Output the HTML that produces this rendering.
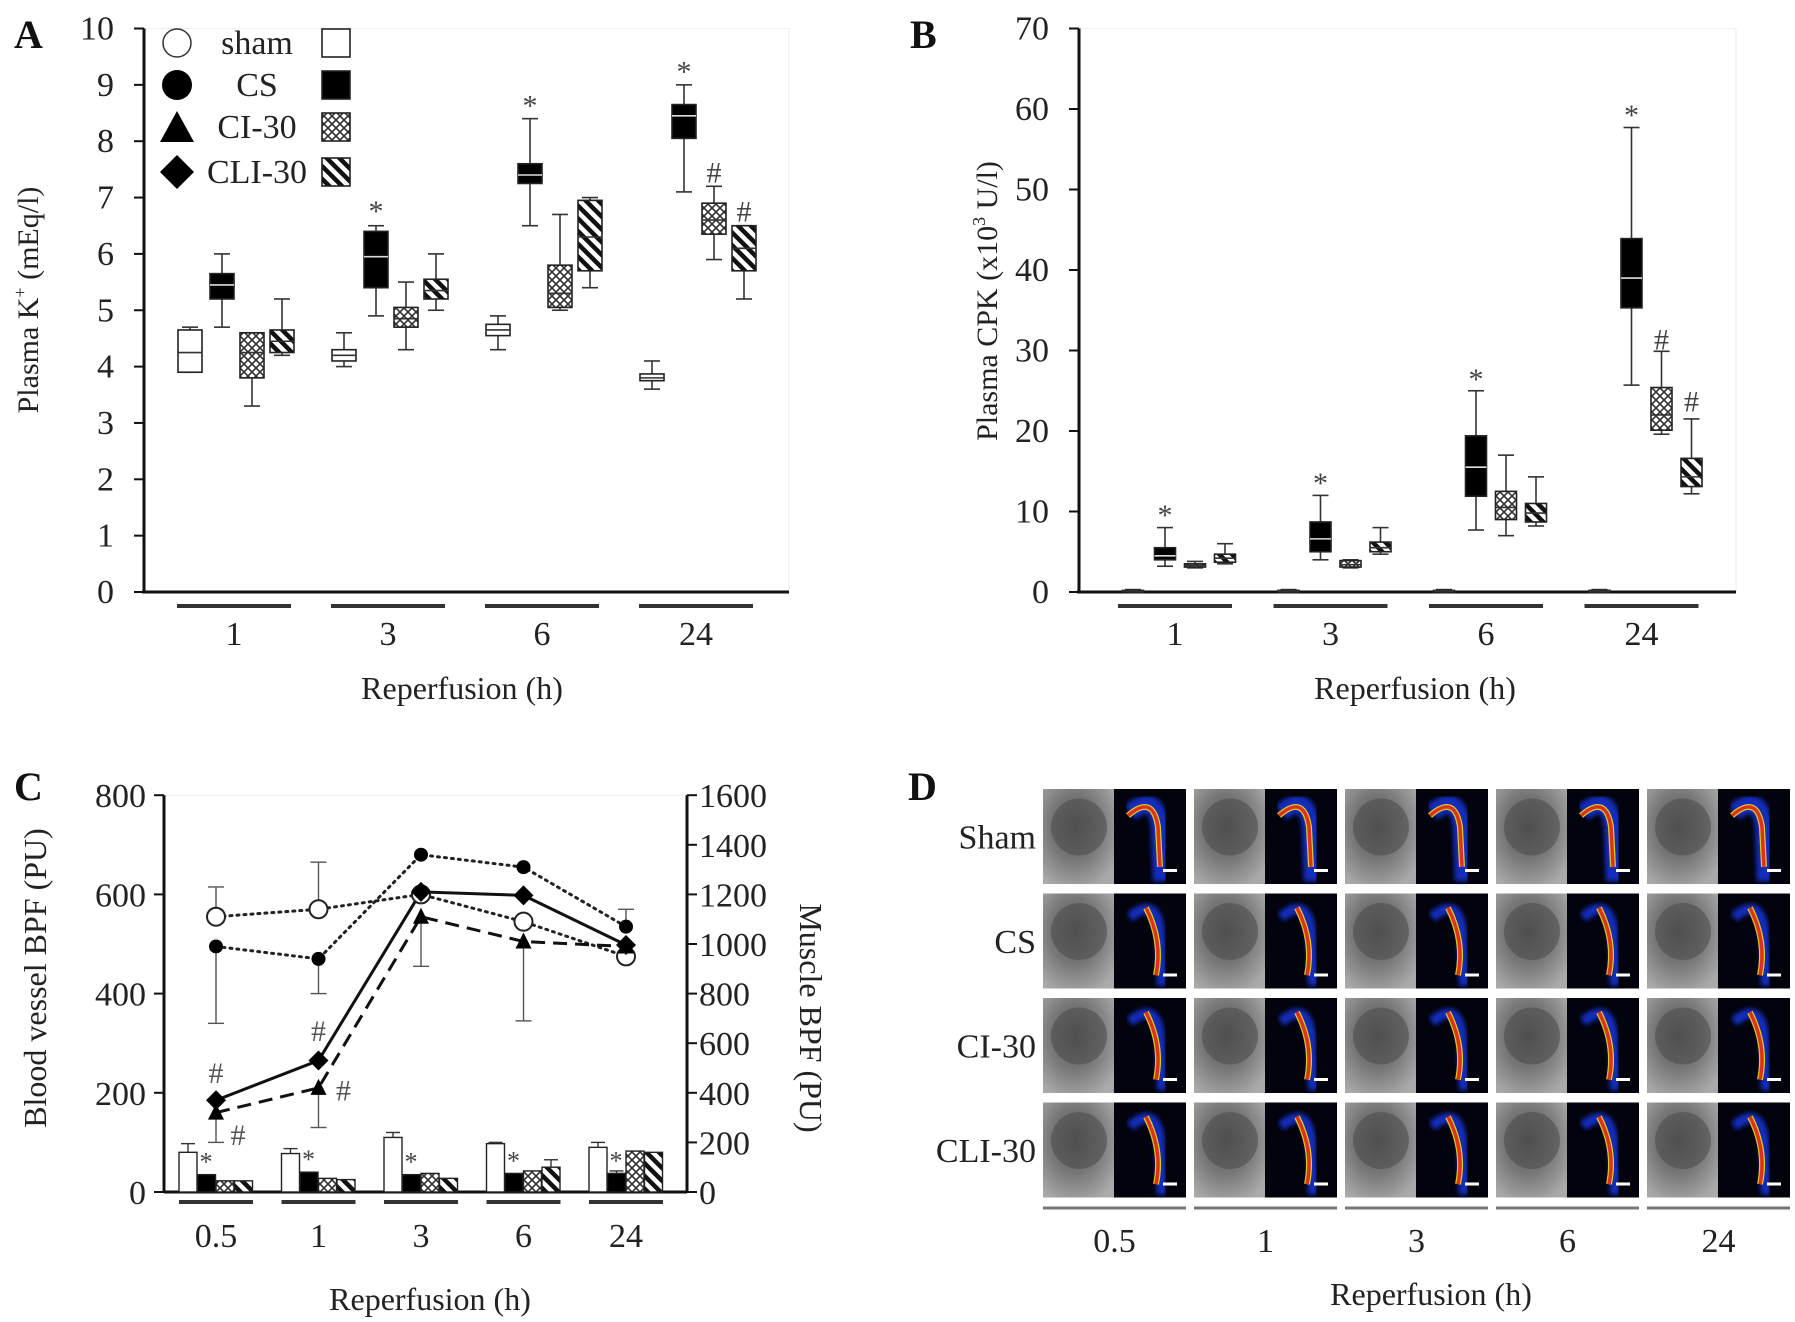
<!DOCTYPE html>
<html><head><meta charset="utf-8"><style>
html,body{margin:0;padding:0;background:#fff;overflow:hidden}
svg{display:block;font-family:"Liberation Serif",serif}
</style></head><body>
<svg id="fig" width="1795" height="1322" viewBox="0 0 1795 1322" xmlns="http://www.w3.org/2000/svg">
<defs>
<pattern id="cross" patternUnits="userSpaceOnUse" width="8" height="8">
<rect width="8" height="8" fill="#fff"/>
<path d="M0,0 L8,8 M8,0 L0,8" stroke="#333" stroke-width="1.6"/>
</pattern>
<pattern id="diag" patternUnits="userSpaceOnUse" width="9" height="9" patternTransform="rotate(-45)">
<rect width="9" height="9" fill="#fff"/>
<rect x="0" y="0" width="4.5" height="9" fill="#111"/>
</pattern>
<radialGradient id="grayimg" cx="45%" cy="40%" r="70%">
<stop offset="0" stop-color="#555"/><stop offset="0.5" stop-color="#777"/><stop offset="1" stop-color="#aaa"/>
</radialGradient>
<filter id="blur"><feGaussianBlur stdDeviation="2.5"/></filter>
</defs>
<g id="panelA"></g>
<g id="panelB"></g>
<g id="panelC"></g>
<g id="panelD"></g>
</svg>
<script>
// ---------- Panel A data (Plasma K+) ----------
const groupsA = ['1','3','6','24'];
const seriesNames = ['sham','CS','CI-30','CLI-30'];
// [whiskerLow, q1, median, q3, whiskerHigh]
const shamA = [[3.9,3.9,4.25,4.65,4.7],[4.0,4.1,4.2,4.3,4.6],[4.3,4.55,4.65,4.75,4.9],[3.6,3.75,3.8,3.87,4.1]];
const csA   = [[4.7,5.2,5.45,5.65,6.0],[4.9,5.4,5.95,6.4,6.5],[6.5,7.25,7.4,7.6,8.4],[7.1,8.05,8.45,8.65,9.0]];
const ciA   = [[3.3,3.8,4.25,4.6,4.6],[4.3,4.7,4.85,5.05,5.5],[5.0,5.05,5.3,5.8,6.7],[5.9,6.35,6.6,6.9,7.2]];
const cliA  = [[4.2,4.25,4.45,4.65,5.2],[5.0,5.2,5.35,5.55,6.0],[5.4,5.7,6.3,6.95,7.0],[5.2,5.7,6.1,6.5,6.5]];
const ticksA = [0,1,2,3,4,5,6,7,8,9,10];
const marksA = [[1,1,'*',6.8],[1,2,'*',8.67],[1,3,'*',9.27],[2,3,'#',7.48],[3,3,'#',6.79]];
// ---------- Panel B data (Plasma CPK) ----------
const groupsB = ['1','3','6','24'];
const shamB = [[0,0,0.1,0.2,0.3],[0,0,0.1,0.2,0.3],[0,0,0.1,0.2,0.3],[0,0,0.1,0.2,0.3]];
const csB   = [[3.2,4,4.5,5.5,8],[4,5,6.6,8.7,12],[7.7,11.9,15.5,19.4,25],[25.7,35.3,39,43.9,57.7]];
const ciB   = [[3,3.1,3.3,3.5,3.8],[3,3.1,3.4,3.9,4],[7,9,10.5,12.5,17],[19.6,20.1,22,25.4,29.9]];
const cliB  = [[3.5,3.7,4.2,4.7,6],[4.7,5,5.5,6.2,8],[8.2,8.7,9.8,11,14.3],[12.2,13.1,14.3,16.6,21.5]];
const ticksB = [0,10,20,30,40,50,60,70];
const marksB = [[1,0,'*',9.8],[1,1,'*',13.8],[1,2,'*',26.7],[1,3,'*',59.5],[2,3,'#',31.6],[3,3,'#',23.9]];
// ---------- Panel C data ----------
const timesC = ['0.5','1','3','6','24'];
const shamLine = [555,570,600,545,475];
const csLine   = [495,470,680,655,535];
const ciLine   = [160,210,555,505,495];
const cliLine  = [185,265,605,598,498];
const shamLineErr = [615,665,null,null,null];
const csLineErr   = [340,400,null,null,570];
const ciLineErr   = [100,130,455,345,null];
const shamBar = [160,155,220,195,180];
const csBar   = [70,80,70,75,75];
const ciBar   = [45,55,75,85,165];
const cliBar  = [45,50,55,100,160];
const shamBarErr = [195,175,240,200,200];
const cliBarErr  = [null,null,null,130,null];
const csBarErr   = [null,null,null,null,85];
const ticksCL = [0,200,400,600,800];
const ticksCR = [0,200,400,600,800,1000,1200,1400,1600];
// ---------- Panel D ----------
const rowsD = ['Sham','CS','CI-30','CLI-30'];
const colsD = ['0.5','1','3','6','24'];

const NS='http://www.w3.org/2000/svg';
function mk(parent,tag,attrs,text){const e=document.createElementNS(NS,tag);for(const k in attrs)e.setAttribute(k,attrs[k]);if(text!==undefined)e.textContent=text;parent.appendChild(e);return e;}
const fills=['#fff','#000','url(#cross)','url(#diag)'];
const FS=34;

function boxPanel(g, groups, data, ticks, yf, x0, x1, yZero, gx0, gstep, offs, bw, marks){
  const yTop=yf(ticks[ticks.length-1]);
  mk(g,'rect',{x:x0,y:yTop,width:x1-x0,height:yZero-yTop,fill:'none',stroke:'#eee','stroke-width':1});
  let ax=mk(g,'line',{x1:x0,y1:yTop,x2:x0,y2:yZero,stroke:'#111','stroke-width':3});
  
  let bx=mk(g,'line',{x1:x0-2,y1:yZero,x2:x1,y2:yZero,stroke:'#111','stroke-width':3});
  
  ticks.forEach(t=>{
    mk(g,'line',{x1:x0-10,y1:yf(t),x2:x0,y2:yf(t),stroke:'#111','stroke-width':2});
    let tl=mk(g,'text',{x:x0-30,y:yf(t)+11,'text-anchor':'end','font-size':FS,fill:'#222'},t);
    
  });
  groups.forEach((lab,i)=>{
    const cx=gx0+i*gstep;
    let ul=mk(g,'line',{x1:cx-57,y1:yZero+14,x2:cx+57,y2:yZero+14,stroke:'#333','stroke-width':4});
    
    let tl=mk(g,'text',{x:cx,y:yZero+53,'text-anchor':'middle','font-size':FS,fill:'#222'},lab);
    
    data.forEach((ser,s)=>{
      const d=ser[i]; const bxc=cx+offs[s];
      const w=mk(g,'line',{x1:bxc,y1:yf(d[0]),x2:bxc,y2:yf(d[4]),stroke:'#333','stroke-width':1.6});
      
      mk(g,'line',{x1:bxc-8,y1:yf(d[0]),x2:bxc+8,y2:yf(d[0]),stroke:'#333','stroke-width':1.6});
      mk(g,'line',{x1:bxc-8,y1:yf(d[4]),x2:bxc+8,y2:yf(d[4]),stroke:'#333','stroke-width':1.6});
      const r=mk(g,'rect',{x:bxc-bw/2,y:yf(d[3]),width:bw,height:Math.max(2,yf(d[1])-yf(d[3])),fill:fills[s],stroke:'#222','stroke-width':1.6});
      
      mk(g,'line',{x1:bxc-bw/2,y1:yf(d[2]),x2:bxc+bw/2,y2:yf(d[2]),stroke:s===1?'#ddd':'#333','stroke-width':1.6});
    });
  });
  marks.forEach(m=>{
    const t=mk(g,'text',{x:gx0+m[1]*gstep+offs[m[0]],y:yf(m[3])+12,'text-anchor':'middle','font-size':30,fill:'#444'},m[2]);
    
  });
}

// ---- Panel A ----
(function(){
  const g=document.getElementById('panelA');
  const yA=v=>592-v*56.35;
  boxPanel(g,groupsA,[shamA,csA,ciA,cliA],ticksA,yA,144,789,592,234,154,[-44,-12,18,48],24,marksA);
  let t=mk(g,'text',{x:14,y:48,'font-size':40,'font-weight':'bold',fill:'#111'},'A');
  
  t=mk(g,'text',{x:462,y:699,'text-anchor':'middle','font-size':32,fill:'#222'},'Reperfusion (h)');
  
  t=mk(g,'text',{x:0,y:0,'text-anchor':'middle','font-size':30,fill:'#222',transform:'translate(38,300) rotate(-90)'});
  t.innerHTML='Plasma K<tspan font-size="18" dy="-12">+</tspan><tspan dy="12"> (mEq/l)</tspan>';
  
  const ly=[43,85,127,172];
  const lg=mk(g,'g',{});
  
  seriesNames.forEach((n,i)=>{
    const y=ly[i], cx=177;
    if(i===0) mk(lg,'circle',{cx:cx,cy:y,r:14,fill:'#fff',stroke:'#333','stroke-width':1.5});
    if(i===1) mk(lg,'circle',{cx:cx,cy:y,r:15,fill:'#000'});
    if(i===2) mk(lg,'polygon',{points:`${cx-17},${y+15} ${cx+17},${y+15} ${cx},${y-16}`,fill:'#000'});
    if(i===3) mk(lg,'polygon',{points:`${cx},${y-17} ${cx+17},${y} ${cx},${y+17} ${cx-17},${y}`,fill:'#000'});
    const tx=mk(lg,'text',{x:257,y:y+11,'text-anchor':'middle','font-size':FS,fill:'#222'},n);
    
    mk(lg,'rect',{x:322,y:y-14,width:28,height:28,fill:fills[i],stroke:'#222','stroke-width':1.6});
  });
})();

// ---- Panel B ----
(function(){
  const g=document.getElementById('panelB');
  const yB=v=>592-v*8.05;
  boxPanel(g,groupsB,[shamB,csB,ciB,cliB],ticksB,yB,1079,1736,592,1175,155.5,[-42,-10,20,50],21,marksB);
  let t=mk(g,'text',{x:910,y:48,'font-size':40,'font-weight':'bold',fill:'#111'},'B');
  
  t=mk(g,'text',{x:1415,y:699,'text-anchor':'middle','font-size':32,fill:'#222'},'Reperfusion (h)');
  
  t=mk(g,'text',{x:0,y:0,'text-anchor':'middle','font-size':30,fill:'#222',transform:'translate(997,301) rotate(-90)'});
  t.innerHTML='Plasma CPK (x10<tspan font-size="18" dy="-12">3</tspan><tspan dy="12"> U/l)</tspan>';
  
})();

// ---- Panel C ----
(function(){
  const g=document.getElementById('panelC');
  const Y0=1192, yL=v=>Y0-v*0.496, yR=v=>Y0-v*0.248;
  const xC=i=>216+i*102.5;
  const x0=164,x1=687;
  mk(g,'line',{x1:x0,y1:yL(800),x2:x1,y2:yL(800),stroke:'#eee','stroke-width':1});
  let e=mk(g,'line',{x1:x0,y1:yL(800),x2:x0,y2:Y0,stroke:'#111','stroke-width':3});
  
  e=mk(g,'line',{x1:x1,y1:yL(800),x2:x1,y2:Y0,stroke:'#111','stroke-width':3});
  
  e=mk(g,'line',{x1:x0,y1:Y0,x2:x1,y2:Y0,stroke:'#111','stroke-width':3});
  
  ticksCL.forEach(t=>{mk(g,'line',{x1:x0-10,y1:yL(t),x2:x0,y2:yL(t),stroke:'#111','stroke-width':2});
    const l=mk(g,'text',{x:x0-18,y:yL(t)+12,'text-anchor':'end','font-size':FS,fill:'#222'},t);
    });
  ticksCR.forEach(t=>{mk(g,'line',{x1:x1,y1:yR(t),x2:x1+10,y2:yR(t),stroke:'#111','stroke-width':2});
    const l=mk(g,'text',{x:x1+12,y:yR(t)+12,'text-anchor':'start','font-size':FS,fill:'#222'},t);
    });
  timesC.forEach((lab,i)=>{
    const cx=xC(i);
    mk(g,'line',{x1:cx-37,y1:Y0+10,x2:cx+37,y2:Y0+10,stroke:'#333','stroke-width':4});
    const l=mk(g,'text',{x:cx,y:1247,'text-anchor':'middle','font-size':FS,fill:'#222'},lab);
    
    const bars=[shamBar,csBar,ciBar,cliBar];
    bars.forEach((b,s)=>{
      const bx=cx-37+s*18.5;
      const r=mk(g,'rect',{x:bx,y:yR(b[i]),width:18,height:Y0-yR(b[i]),fill:fills[s],stroke:'#222','stroke-width':1.4});
      
    });
    [[shamBarErr,0],[csBarErr,1],[cliBarErr,3]].forEach(([arr,s])=>{
      if(arr[i]==null)return; const bx=cx-37+s*18.5+9;
      mk(g,'line',{x1:bx,y1:yR(bars[s][i]),x2:bx,y2:yR(arr[i]),stroke:'#333','stroke-width':1.4});
      mk(g,'line',{x1:bx-7,y1:yR(arr[i]),x2:bx+7,y2:yR(arr[i]),stroke:'#333','stroke-width':1.4});
    });
    const st=mk(g,'text',{x:cx-10,y:yR(csBar[i])-4,'text-anchor':'middle','font-size':26,fill:'#444'},'*');
    
  });
  [[shamLine,shamLineErr],[csLine,csLineErr],[ciLine,ciLineErr]].forEach(([ln,er])=>{
    er.forEach((v,i)=>{if(v==null)return;
      mk(g,'line',{x1:xC(i),y1:yL(ln[i]),x2:xC(i),y2:yL(v),stroke:'#555','stroke-width':1.4});
      mk(g,'line',{x1:xC(i)-8,y1:yL(v),x2:xC(i)+8,y2:yL(v),stroke:'#555','stroke-width':1.4});});
  });
  const pts=a=>a.map((v,i)=>xC(i)+','+yL(v)).join(' ');
  let p;
  p=mk(g,'polyline',{points:pts(shamLine),fill:'none',stroke:'#222','stroke-width':3,'stroke-dasharray':'2 5','stroke-linecap':'round'});
  
  p=mk(g,'polyline',{points:pts(csLine),fill:'none',stroke:'#222','stroke-width':3,'stroke-dasharray':'2 5','stroke-linecap':'round'});
  
  p=mk(g,'polyline',{points:pts(ciLine),fill:'none',stroke:'#111','stroke-width':3,'stroke-dasharray':'14 8'});
  
  p=mk(g,'polyline',{points:pts(cliLine),fill:'none',stroke:'#111','stroke-width':3});
  
  timesC.forEach((lab,i)=>{
    const x=xC(i);
    let m=mk(g,'circle',{cx:x,cy:yL(shamLine[i]),r:9,fill:'#fff',stroke:'#222','stroke-width':2});
    
    m=mk(g,'circle',{cx:x,cy:yL(csLine[i]),r:7,fill:'#000'});
    
    const ty=yL(ciLine[i]);
    m=mk(g,'polygon',{points:`${x-8},${ty+7} ${x+8},${ty+7} ${x},${ty-9}`,fill:'#000'});
    
    const dy=yL(cliLine[i]);
    m=mk(g,'polygon',{points:`${x},${dy-10} ${x+10},${dy} ${x},${dy+10} ${x-10},${dy}`,fill:'#000'});
    
  });
  [[0,cliLine[0]+55,0],[0,ciLine[0]-45,22],[1,cliLine[1]+60,0],[1,ciLine[1]-5,25]].forEach(h=>{
    const t=mk(g,'text',{x:xC(h[0])+h[2],y:yL(h[1])+10,'text-anchor':'middle','font-size':30,fill:'#555'},'#');
    });
  let t=mk(g,'text',{x:14,y:800,'font-size':40,'font-weight':'bold',fill:'#111'},'C');
  
  t=mk(g,'text',{x:430,y:1310,'text-anchor':'middle','font-size':32,fill:'#222'},'Reperfusion (h)');
  
  t=mk(g,'text',{x:0,y:0,'text-anchor':'middle','font-size':32,fill:'#222',transform:'translate(46,978) rotate(-90)'},'Blood vessel BPF (PU)');
  
  t=mk(g,'text',{x:0,y:0,'text-anchor':'middle','font-size':32,fill:'#222',transform:'translate(800,1018) rotate(90)'},'Muscle BPF (PU)');
  
})();

// ---- Panel D ----
(function(){
  const g=document.getElementById('panelD');
  const cx0=1043, cstep=151, cw=143, ry0=789, rstep=104.5, rh=95;
  rowsD.forEach((rn,r)=>{
    const y=ry0+r*rstep;
    const l=mk(g,'text',{x:1036,y:y+rh/2+12,'text-anchor':'end','font-size':FS,fill:'#222'},rn);
    
    colsD.forEach((cn,c)=>{
      const x=cx0+c*cstep;
      const cell=mk(g,'g',{});
      
      
      mk(cell,'rect',{x:x,y:y,width:71,height:rh,fill:'url(#grayimg)'});
      mk(cell,'ellipse',{cx:x+36,cy:y+rh*0.4,rx:28,ry:rh*0.3,fill:'#4a4a4a',opacity:0.55});
      mk(cell,'rect',{x:x+71,y:y,width:72,height:rh,fill:'#03030e'});
      const vx=x+105;
      const f=t=>y+rh*t;
      mk(cell,'path',{d:`M${vx-18},${f(0.25)} Q${vx+8},${f(0.02)} ${vx+12},${f(0.4)} L${vx+14},${f(0.97)}`,fill:'none',stroke:'#1530d0','stroke-width':r===0?18:10,filter:'url(#blur)',opacity:0.9});
      const vessel=r===0?`M${vx-20},${f(0.28)} Q${vx+5},${f(0.05)} ${vx+10},${f(0.4)} L${vx+12},${f(0.82)}`:`M${vx-2},${f(0.15)} Q${vx+15},${f(0.5)} ${vx+8},${f(0.86)}`;
      mk(cell,'path',{d:vessel,fill:'none',stroke:'#e8e020','stroke-width':6,opacity:0.9});
      mk(cell,'path',{d:vessel,fill:'none',stroke:'#e0301a','stroke-width':3.5});
      mk(cell,'rect',{x:x+120,y:y+rh-15,width:14,height:3,fill:'#fff'});
    });
  });
  colsD.forEach((cn,c)=>{
    const x=cx0+c*cstep;
    mk(g,'line',{x1:x,y1:1208,x2:x+cw,y2:1208,stroke:'#777','stroke-width':3});
    const l=mk(g,'text',{x:x+cw/2,y:1252,'text-anchor':'middle','font-size':FS,fill:'#222'},cn);
    
  });
  let t=mk(g,'text',{x:908,y:800,'font-size':40,'font-weight':'bold',fill:'#111'},'D');
  
  t=mk(g,'text',{x:1431,y:1305,'text-anchor':'middle','font-size':32,fill:'#222'},'Reperfusion (h)');
  
})();
</script>
</body></html>
